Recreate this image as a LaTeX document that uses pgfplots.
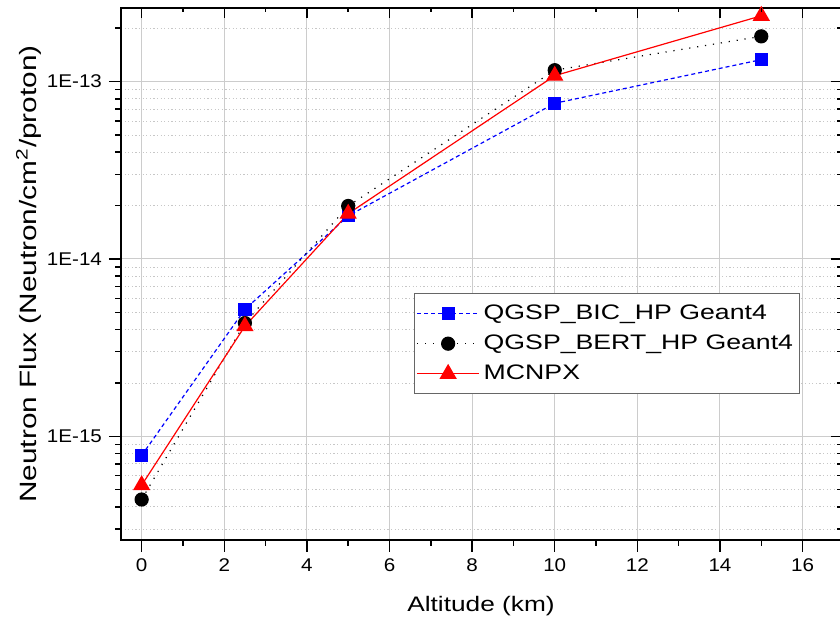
\documentclass[border=0pt]{standalone}
\usepackage{fontspec}
\setmainfont{Liberation Sans}
\newfontfamily\legfont[FakeStretch=1.27]{Liberation Sans}
\newfontfamily\xlabfont[FakeStretch=1.25]{Liberation Sans}
\newfontfamily\ylabfont[FakeStretch=1.26]{Liberation Sans}
\newfontfamily\tickfont[FakeStretch=1.12]{Liberation Sans}
\usepackage{pgfplots}
\pgfplotsset{compat=1.18}
\begin{document}
\begin{tikzpicture}
\begin{scope}
\clip (-60.5pt,-39.5pt) rectangle (359.5pt,270pt);
\begin{axis}[
  width=360pt, height=266pt, scale only axis,
  xmin=-0.5, xmax=16.93, ymin=2.6e-16, ymax=2.6e-13, ymode=log,
  xtick={0,2,...,16}, minor x tick num=1,
  ytick={1e-15,1e-14,1e-13}, yticklabels={1E-15,1E-14,1E-13},
  minor ytick={3e-16,4e-16,5e-16,6e-16,7e-16,8e-16,9e-16,2e-15,3e-15,4e-15,5e-15,6e-15,7e-15,8e-15,9e-15,2e-14,3e-14,4e-14,5e-14,6e-14,7e-14,8e-14,9e-14,2e-13},
  xtick pos=bottom, ytick pos=left, tick align=outside,
  major tick length=6pt, minor tick length=2.75pt,
  every tick/.style={black, line width=0.75pt},
  axis line style={line width=0.75pt},
  xmajorgrids, ymajorgrids, yminorgrids,
  major grid style={black!20, line width=0.5pt},
  minor grid style={black!22, line width=0.4pt, dash pattern=on 0.6pt off 1.2pt},
  /pgf/number format/assume math mode=true,
  tick label style={font=\tickfont\fontsize{9.2}{11}\selectfont},
  xlabel={Altitude (km)},
  ylabel={Neutron Flux (Neutron/cm\textsuperscript{2}/proton)},
  xlabel style={font=\xlabfont\fontsize{10.5}{12}\selectfont, yshift=-5pt},
  ylabel style={font=\ylabfont\fontsize{11.8}{13}\selectfont},
  ylabel shift=-4pt,
  legend cell align=left,
  legend style={at={(rel axis cs:0.407,0.464)}, anchor=north west,
    draw=black!60, line width=0.5pt, font=\legfont\fontsize{10.5}{13}\selectfont,
    inner xsep=1pt, inner ysep=3.5pt, row sep=2.25pt},
  legend image code/.code={\draw[mark repeat=2,mark phase=2] plot coordinates {(0pt,0pt) (15.5pt,0pt) (31pt,0pt)};},
]
\addplot[color=blue, line width=0.6pt, dash pattern=on 2pt off 1.5pt, mark=square*, mark size=3pt, mark options={solid}]
  coordinates {(0,7.8e-16) (2.5,5.2e-15) (5,1.75e-14) (10,7.55e-14) (15,1.33e-13)};
\addlegendentry{QGSP\_BIC\_HP Geant4\hspace{6.5pt}}
\addplot[color=black, line width=0.6pt, dash pattern=on 0.6pt off 3.4pt, mark=*, mark size=3.25pt, mark options={solid}]
  coordinates {(0,4.4e-16) (2.5,4.35e-15) (5,1.99e-14) (10,1.16e-13) (15,1.80e-13)};
\addlegendentry{QGSP\_BERT\_HP Geant4\hspace{6.5pt}}
\addplot[color=red, line width=0.6pt, mark=triangle*, mark size=4.4pt, mark options={solid}]
  coordinates {(0,5.3e-16) (2.5,4.18e-15) (5,1.80e-14) (10,1.08e-13) (15,2.35e-13)};
\addlegendentry{MCNPX}
\end{axis}
\begin{axis}[
  width=360pt, height=266pt, scale only axis,
  xmin=-0.5, xmax=16.93, ymin=2.6e-16, ymax=2.6e-13, ymode=log,
  xtick={0,2,...,16}, minor x tick num=1,
  ytick={1e-15,1e-14,1e-13},
  minor ytick={3e-16,4e-16,5e-16,6e-16,7e-16,8e-16,9e-16,2e-15,3e-15,4e-15,5e-15,6e-15,7e-15,8e-15,9e-15,2e-14,3e-14,4e-14,5e-14,6e-14,7e-14,8e-14,9e-14,2e-13},
  xticklabels={}, yticklabels={},
  xtick pos=top, ytick pos=right, tick align=inside,
  major tick length=5pt, minor tick length=2pt,
  every tick/.style={black, line width=0.75pt},
  axis line style={draw=none},
]
\end{axis}
\end{scope}
\pgfresetboundingbox
\path[use as bounding box] (-60.5pt,-39.5pt) rectangle (359.5pt,270pt);
\end{tikzpicture}
\end{document}
